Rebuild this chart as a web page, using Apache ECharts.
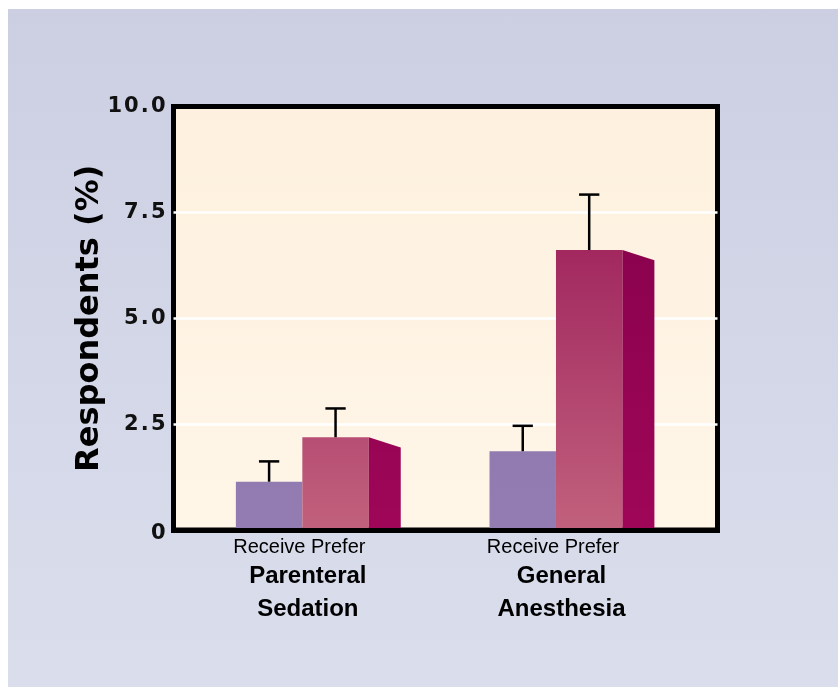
<!DOCTYPE html>
<html>
<head>
<meta charset="utf-8">
<script src="https://cdn.jsdelivr.net/npm/echarts@6/dist/echarts.min.js"></script>
<style>
  html, body { margin: 0; padding: 0; background: #ffffff; }
  #bg { position: absolute; left: 8px; top: 9px; width: 830px; height: 678px;
        background: linear-gradient(#cccfe2, #dadeec); }
  #chart { position: absolute; left: 0; top: 0; width: 838px; height: 687px; }
</style>
</head>
<body>
<div id="bg"></div>
<div id="chart"></div>
<script>
// ---- data ----
const categories = ['Parenteral\nSedation', 'General\nAnesthesia'];
const barLabels = ['Receive', 'Prefer'];
const receive = [1.14, 1.86];
const receiveErrTop = [1.62, 2.46];
const prefer = [2.19, 6.61];
const preferErrTop = [2.87, 7.92];
const yMin = 0, yMax = 10, yStep = 2.5;
const yTitle = 'Respondents (%)';

const chart = echarts.init(document.getElementById('chart'), null, { renderer: 'canvas' });

const rows = categories.map((c, i) => [i, receive[i], receiveErrTop[i], prefer[i], preferErrTop[i]]);

function grad(top, bottom, yTop, yBot) {
  return { type: 'linear', x: 0, y: yTop, x2: 0, y2: yBot, global: true,
           colorStops: [{ offset: 0, color: top }, { offset: 1, color: bottom }] };
}

function renderItem(params, api) {
  const i = api.value(0);
  const base = api.coord([i, 0]);
  const cx = base[0], by = base[1];
  const yTopAxis = api.coord([i, yMax])[1];
  const band = api.size([1, 0])[0];
  const w = band * 0.262;
  const side = band * 0.126;
  const drop = side * 0.32;
  const cap = band * 0.04;
  const yR = api.coord([i, api.value(1)])[1];
  const yRe = api.coord([i, api.value(2)])[1];
  const yP = api.coord([i, api.value(3)])[1];
  const yPe = api.coord([i, api.value(4)])[1];
  const purple = grad('#8a74a9', '#927cb1', yTopAxis, by);
  const front = grad('#920b50', '#c1617d', yTopAxis, by);
  const sideC = grad('#810048', '#9f0658', yTopAxis, by);
  const lineStyle = { stroke: '#000', lineWidth: 2.5, fill: null };
  const rx = cx - w / 2, px = cx + w / 2;
  return {
    type: 'group',
    children: [
      { type: 'rect', shape: { x: cx - w, y: yR, width: w, height: by - yR }, style: { fill: purple } },
      { type: 'rect', shape: { x: cx, y: yP, width: w, height: by - yP }, style: { fill: front } },
      { type: 'polygon', shape: { points: [[cx + w, yP], [cx + w + side, yP + drop], [cx + w + side, by], [cx + w, by]] }, style: { fill: sideC } },
      { type: 'line', shape: { x1: rx, y1: yR, x2: rx, y2: yRe }, style: lineStyle },
      { type: 'line', shape: { x1: rx - cap, y1: yRe, x2: rx + cap, y2: yRe }, style: lineStyle },
      { type: 'line', shape: { x1: px, y1: yP, x2: px, y2: yPe }, style: lineStyle },
      { type: 'line', shape: { x1: px - cap, y1: yPe, x2: px + cap, y2: yPe }, style: lineStyle }
    ]
  };
}

const option = {
  backgroundColor: 'transparent',
  animation: false,
  grid: [
    { left: 173.5, right: 120.5, top: 106.5, bottom: 157, show: true,
      backgroundColor: { type: 'linear', x: 0, y: 0, x2: 0, y2: 1,
        colorStops: [{ offset: 0, color: '#fdf0de' }, { offset: 1, color: '#fff6e8' }] },
      borderColor: '#000', borderWidth: 5 },
    { left: 175.5, right: 155.2, top: 106.5, bottom: 157 }
  ],
  xAxis: [
    { gridIndex: 0, type: 'value', min: 0, max: 1, z: 10,
      axisLine: { show: true, lineStyle: { color: '#000', width: 5, cap: 'square' } },
      axisTick: { show: false }, axisLabel: { show: false }, splitLine: { show: false } },
    { gridIndex: 1, type: 'category', data: categories,
      axisLine: { show: false },
      axisTick: { show: false },
      splitLine: { show: false },
      axisLabel: {
        margin: 5, interval: 0, color: '#000',
        formatter: v => '{sub|' + barLabels.join(' ') + '}\n' + v.split('\n').map(s => '{main|' + s + '}').join('\n'),
        rich: {
          sub: { fontFamily: 'Liberation Sans', fontSize: 20, lineHeight: 25, color: '#000', padding: [0, 6, 0, 0] },
          main: { fontFamily: 'Liberation Sans', fontWeight: 'bold', fontSize: 24, lineHeight: 33, color: '#000', padding: [0, 0, 0, 11] }
        }
      } }
  ],
  yAxis: [
    { gridIndex: 0, type: 'value', min: yMin, max: yMax, interval: yStep,
      name: yTitle, nameLocation: 'middle', nameRotate: 90, nameGap: 68, nameMoveOverlap: false,
      nameTextStyle: { fontFamily: 'DejaVu Sans', fontWeight: 'bold', fontSize: 32, color: '#000' },
      axisLine: { show: false }, axisTick: { show: false },
      splitLine: { show: true, showMinLine: false, showMaxLine: false, lineStyle: { color: '#ffffff', width: 2.5 } },
      axisLabel: { margin: 8, color: '#111', fontFamily: 'DejaVu Sans', fontWeight: 'bold', fontSize: 21,
        formatter: v => v === 0 ? '{z|0}' : v.toFixed(1).split('').join('\u200A'),
        rich: { z: { fontFamily: 'DejaVu Sans', fontWeight: 'bold', fontSize: 21, color: '#111', padding: [8, 0, 0, 0] } } } },
    { gridIndex: 1, type: 'value', min: yMin, max: yMax, show: false }
  ],
  series: [
    { type: 'custom', xAxisIndex: 1, yAxisIndex: 1, renderItem: renderItem,
      data: rows, encode: { x: 0, y: [1, 2, 3, 4] }, clip: false }
  ]
};
chart.setOption(option);
</script>
</body>
</html>
